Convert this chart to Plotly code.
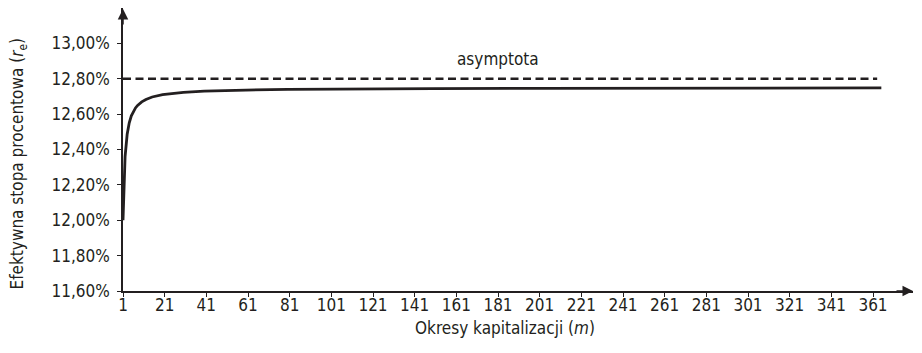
import plotly.graph_objects as go

# Data
periods = [1, 2, 3, 4, 5, 6, 7, 8, 10, 12, 15, 20, 25, 30, 40, 50, 60, 80, 100, 125, 150, 200, 250, 300, 365]
effective_rate = [12.000, 12.360, 12.486, 12.551, 12.590, 12.616, 12.635, 12.649, 12.669, 12.683, 12.697, 12.710,
                  12.717, 12.723, 12.730, 12.734, 12.736, 12.740, 12.742, 12.743, 12.744, 12.746, 12.746, 12.747, 12.748]
asymptote_x = [1, 363]
asymptote_y = [12.80, 12.80]
x_ticks = list(range(1, 362, 20))
y_ticks = [11.6, 11.8, 12.0, 12.2, 12.4, 12.6, 12.8, 13.0]
y_ticklabels = ["11,60%", "11,80%", "12,00%", "12,20%", "12,40%", "12,60%", "12,80%", "13,00%"]

FONT = "Liberation Sans Narrow, DejaVu Sans Condensed, Arial Narrow, sans-serif"
INK = "#231f20"
FS = 17

fig = go.Figure()
fig.add_trace(go.Scatter(x=asymptote_x, y=asymptote_y, mode="lines",
                         line=dict(color=INK, width=2.5, dash="8px,4.5px"), hoverinfo="skip"))
fig.add_trace(go.Scatter(x=periods, y=effective_rate, mode="lines",
                         line=dict(color=INK, width=2.8)))

fig.add_annotation(x=181, y=12.913, text="asymptota", showarrow=False,
                   font=dict(family=FONT, size=FS, color=INK))

# axis titles
fig.add_annotation(xref="paper", yref="paper", x=-0.149, y=0.45, textangle=-90,
                   text="Efektywna stopa procentowa (<i>r</i><sub>e</sub>)", showarrow=False,
                   font=dict(family=FONT, size=FS, color=INK))
fig.add_annotation(xref="paper", yref="paper", x=0.4835, y=-0.173,
                   text="Okresy kapitalizacji (<i>m</i>)", showarrow=False,
                   font=dict(family=FONT, size=FS, color=INK))

# axis arrows
fig.add_annotation(xref="paper", yref="paper", x=0, y=1, ax=0, ay=18,
                   text="", showarrow=True, arrowhead=2, arrowsize=1.4, arrowwidth=1.5, arrowcolor=INK)
fig.add_annotation(xref="paper", yref="paper", x=1.0, y=0, ax=-18, ay=0,
                   text="", showarrow=True, arrowhead=2, arrowsize=1.4, arrowwidth=1.5, arrowcolor=INK)

# the page body has an 8px default margin, so the figure is sized/offset to compensate
fig.update_layout(
    width=906, height=337,
    margin=dict(l=115, r=1, t=0, b=54),
    paper_bgcolor="white", plot_bgcolor="white",
    showlegend=False,
    font=dict(family=FONT, size=FS, color=INK),
)
fig.update_xaxes(range=[1, 380.2], showgrid=False, zeroline=False, automargin=False,
                 showline=True, linecolor=INK, linewidth=1.5,
                 tickmode="array", tickvals=x_ticks, ticktext=[str(t) for t in x_ticks],
                 ticks="outside", ticklen=4, tickcolor=INK, tickwidth=1.2, ticklabelstandoff=-6,
                 tickfont=dict(family=FONT, size=FS, color=INK))
fig.update_yaxes(range=[11.6, 13.2], showgrid=False, zeroline=False, automargin=False,
                 showline=True, linecolor=INK, linewidth=1.5,
                 tickmode="array", tickvals=y_ticks, ticktext=y_ticklabels,
                 ticks="outside", ticklen=4, tickcolor=INK, tickwidth=1.2, ticklabelstandoff=4,
                 tickfont=dict(family=FONT, size=FS, color=INK))

fig.write_html("out.html")
